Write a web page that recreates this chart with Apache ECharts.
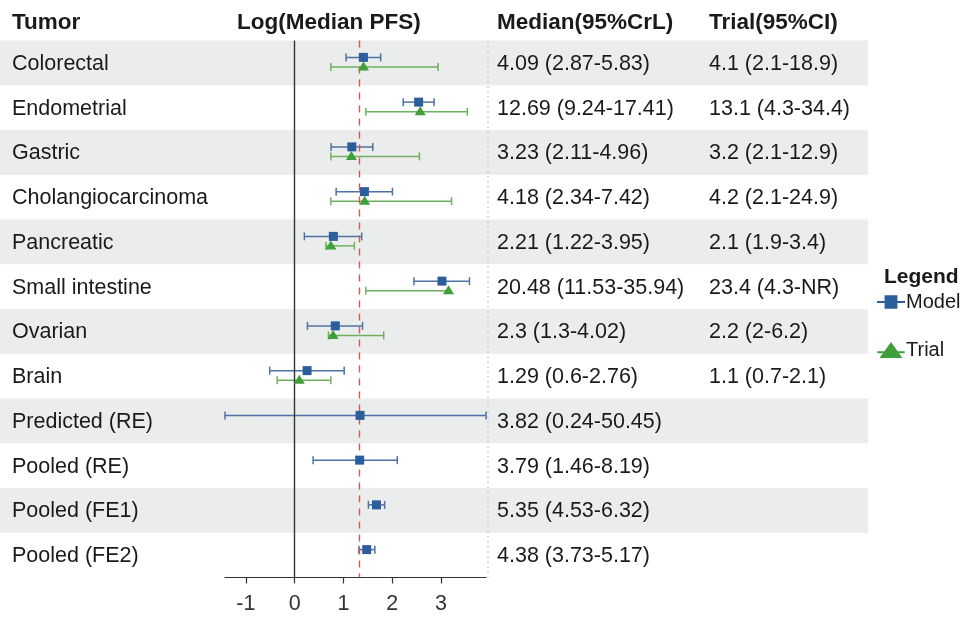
<!DOCTYPE html>
<html>
<head>
<meta charset="utf-8">
<script src="https://cdn.jsdelivr.net/npm/echarts@6/dist/echarts.min.js"></script>
<style>html,body{margin:0;padding:0;background:#fff;}#c{width:965px;height:619px;}</style>
</head>
<body>
<div id="c"></div>
<script>
// ---- data ----
var tumors = ['Colorectal','Endometrial','Gastric','Cholangiocarcinoma','Pancreatic','Small intestine','Ovarian','Brain','Predicted (RE)','Pooled (RE)','Pooled (FE1)','Pooled (FE2)'];
var modelText = ['4.09 (2.87-5.83)','12.69 (9.24-17.41)','3.23 (2.11-4.96)','4.18 (2.34-7.42)','2.21 (1.22-3.95)','20.48 (11.53-35.94)','2.3 (1.3-4.02)','1.29 (0.6-2.76)','3.82 (0.24-50.45)','3.79 (1.46-8.19)','5.35 (4.53-6.32)','4.38 (3.73-5.17)'];
var trialText = ['4.1 (2.1-18.9)','13.1 (4.3-34.4)','3.2 (2.1-12.9)','4.2 (2.1-24.9)','2.1 (1.9-3.4)','23.4 (4.3-NR)','2.2 (2-6.2)','1.1 (0.7-2.1)','','','',''];
// log(median PFS) and log of interval bounds
var modelLog     = [1.409, 2.541, 1.172, 1.430, 0.793, 3.019, 0.833, 0.255, 1.340, 1.332, 1.677, 1.477];
var modelLogLow  = [1.054, 2.224, 0.747, 0.850, 0.199, 2.445, 0.262, -0.511, -1.427, 0.378, 1.511, 1.316];
var modelLogHigh = [1.763, 2.857, 1.601, 2.004, 1.374, 3.582, 1.391, 1.015, 3.921, 2.103, 1.844, 1.643];
var trialLog     = [1.411, 2.573, 1.163, 1.435, 0.742, 3.153, 0.788, 0.095, null, null, null, null];
var trialLogLow  = [0.742, 1.459, 0.742, 0.742, 0.642, 1.459, 0.693, -0.357, null, null, null, null];
var trialLogHigh = [2.939, 3.538, 2.557, 3.215, 1.224, null, 1.825, 0.742, null, null, null, null];
var pooledRE = 1.332;
var xTicks = [-1, 0, 1, 2, 3];

// ---- style ----
var FONT = '"Liberation Sans", Arial, Helvetica, sans-serif';
var TXT = '#1a1a1a';
var BLUE = '#2c5d9d', BLUE_L = '#4e72a3';
var GREEN = '#3f9f3a', GREEN_L = '#6fb060';
var MODEL_OFF = -5.5, TRIAL_OFF = 4;
var BODY = 21.5, HEAD = 22.5;

var chart = echarts.init(document.getElementById('c'), null, {renderer: 'canvas'});

function errBar(offset, color, lows, highs, mids) {
  return function (params, api) {
    var i = api.value(0);
    var lo = lows[i], hi = highs[i], mid = mids[i];
    if (mid == null) return null;
    var yc = api.coord([0, i])[1] + offset;
    var children = [];
    var xl = lo != null ? api.coord([lo, i])[0] : null;
    var xh = hi != null ? api.coord([hi, i])[0] : api.coord([mid, i])[0];
    var xs = xl != null ? xl : api.coord([mid, i])[0];
    children.push({type: 'line', shape: {x1: xs, y1: yc, x2: xh, y2: yc}, style: {stroke: color, lineWidth: 1.5}});
    if (xl != null) children.push({type: 'line', shape: {x1: xl, y1: yc - 4, x2: xl, y2: yc + 4}, style: {stroke: color, lineWidth: 1.5}});
    if (hi != null) children.push({type: 'line', shape: {x1: xh, y1: yc - 4, x2: xh, y2: yc + 4}, style: {stroke: color, lineWidth: 1.5}});
    return {type: 'group', children: children};
  };
}

var rowIdx = tumors.map(function (t, i) { return [i]; });

var option = {
  animation: false,
  backgroundColor: '#ffffff',
  title: [
    {text: 'Tumor', left: 12, top: 11, padding: 0, textStyle: {fontFamily: FONT, fontSize: HEAD, fontWeight: 'bold', color: TXT}},
    {text: 'Log(Median PFS)', left: 237, top: 11, padding: 0, textStyle: {fontFamily: FONT, fontSize: HEAD, fontWeight: 'bold', color: TXT}},
    {text: 'Median(95%CrL)', left: 497, top: 11, padding: 0, textStyle: {fontFamily: FONT, fontSize: HEAD, fontWeight: 'bold', color: TXT}},
    {text: 'Trial(95%CI)', left: 709, top: 11, padding: 0, textStyle: {fontFamily: FONT, fontSize: HEAD, fontWeight: 'bold', color: TXT}},
    {text: 'Legend', left: 884, top: 267, padding: 0, textStyle: {fontFamily: FONT, fontSize: 21, fontWeight: 'bold', color: TXT}}
  ],
  legend: {
    orient: 'vertical', left: 877, top: 292, itemGap: 28, padding: 0,
    itemWidth: 28, itemHeight: 16, textStyle: {fontFamily: FONT, fontSize: 20, color: TXT, padding: [0, 0, 0, -4]},
    data: [
      {name: 'Model', icon: 'path://M0,7.2h6.5v-5h11v5h6.5v1.6h-6.5v5h-11v-5h-6.5z'},
      {name: 'Trial', icon: 'path://M0,9.2h24v1.6h-24z M2,15L12,1L22,15z'}
    ],
    selectedMode: false
  },
  grid: [
    {left: 0, right: 97, top: 40.5, bottom: 41.5},
    {left: 225, right: 479, top: 40.5, bottom: 41.5}
  ],
  xAxis: [
    {gridIndex: 0, type: 'value', min: 0, max: 1, show: false},
    {gridIndex: 1, type: 'value', min: -1.427, max: 3.921,
      axisLine: {show: true, lineStyle: {color: '#333', width: 1.2}},
      axisTick: {show: true, length: 6, lineStyle: {color: '#333', width: 1.2}, customValues: xTicks},
      axisLabel: {show: true, margin: 16, fontFamily: FONT, fontSize: BODY, color: '#333', customValues: xTicks},
      splitLine: {show: false}}
  ],
  yAxis: [
    {gridIndex: 0, type: 'category', data: tumors, inverse: true, show: false},
    {gridIndex: 1, type: 'category', data: tumors, inverse: true, show: false}
  ],
  graphic: [
    {type: 'line', z: 5, shape: {x1: 488, y1: 41, x2: 488, y2: 577}, style: {stroke: '#c8c8c8', lineWidth: 1.2, lineDash: [2, 3]}}
  ],
  series: [
    {
      type: 'custom', xAxisIndex: 0, yAxisIndex: 0, z: 0, silent: true,
      data: rowIdx, encode: {y: 0},
      renderItem: function (params, api) {
        var i = api.value(0);
        var yc = api.coord([0, i])[1];
        var h = api.size([0, 1])[1];
        var ch = [];
        if (i % 2 === 0) ch.push({type: 'rect', shape: {x: 0, y: yc - h / 2, width: 868, height: h}, style: {fill: '#ebedec'}});
        var ts = {fontFamily: FONT, fontSize: BODY, fill: TXT, verticalAlign: 'middle', align: 'left'};
        ch.push({type: 'text', style: Object.assign({text: tumors[i], x: 12, y: yc + 1}, ts)});
        ch.push({type: 'text', style: Object.assign({text: modelText[i], x: 497, y: yc + 1}, ts)});
        if (trialText[i]) ch.push({type: 'text', style: Object.assign({text: trialText[i], x: 709, y: yc + 1}, ts)});
        return {type: 'group', children: ch};
      }
    },
    {
      type: 'custom', xAxisIndex: 1, yAxisIndex: 1, z: 3, clip: false, silent: true,
      data: rowIdx, encode: {y: 0},
      renderItem: errBar(TRIAL_OFF, GREEN_L, trialLogLow, trialLogHigh, trialLog),
      markLine: {
        silent: true, symbol: 'none', label: {show: false},
        data: [
          {xAxis: 0, lineStyle: {color: '#333', width: 1.4, type: 'solid'}},
          {xAxis: pooledRE, lineStyle: {color: '#cc5a55', width: 1.4, type: [7, 6]}}
        ]
      }
    },
    {
      type: 'custom', xAxisIndex: 1, yAxisIndex: 1, z: 4, clip: false, silent: true,
      data: rowIdx, encode: {y: 0},
      renderItem: errBar(MODEL_OFF, BLUE_L, modelLogLow, modelLogHigh, modelLog)
    },
    {
      name: 'Trial', type: 'scatter', xAxisIndex: 1, yAxisIndex: 1, z: 5,
      symbol: 'triangle', symbolSize: [11, 9], symbolOffset: [0, TRIAL_OFF - 1],
      itemStyle: {color: GREEN, opacity: 1},
      data: trialLog.map(function (v, i) { return v == null ? null : [v, i]; })
    },
    {
      name: 'Model', type: 'scatter', xAxisIndex: 1, yAxisIndex: 1, z: 6,
      symbol: 'rect', symbolSize: 9, symbolOffset: [0, MODEL_OFF],
      itemStyle: {color: BLUE, opacity: 1},
      data: modelLog.map(function (v, i) { return [v, i]; })
    }
  ]
};
chart.setOption(option);
</script>
</body>
</html>
